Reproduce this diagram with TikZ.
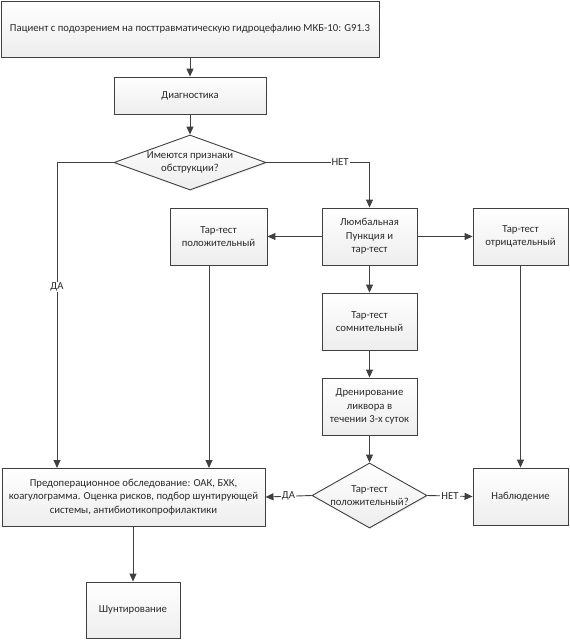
\documentclass[tikz,border=0pt]{standalone}
\usepackage{fontspec}
\setmainfont{Carlito}
\usetikzlibrary{arrows.meta,shapes.geometric,shadows}
\definecolor{ln}{HTML}{404040}
\definecolor{tx}{HTML}{2A2A2A}
\begin{document}
\begin{tikzpicture}[x=1pt,y=-1pt,
  every node/.style={font=\fontsize{10.7}{13.5}\selectfont, text=tx, align=center},
  box/.style={draw=ln, line width=0.9pt, rectangle, inner sep=2pt, top color=white, bottom color=gray!14,
    drop shadow={shadow xshift=1.2pt, shadow yshift=-1.2pt, opacity=0.12}},
  dia/.style={draw=ln, line width=0.9pt, diamond, inner sep=0pt, top color=white, bottom color=gray!14,
    drop shadow={shadow xshift=1.2pt, shadow yshift=-1.2pt, opacity=0.12}},
  conn/.style={draw=ln, line width=0.9pt, -{Triangle[length=8pt,width=7pt]}},
  lab/.style={fill=white, inner sep=1pt}
]
\useasboundingbox (0,0) rectangle (570,641);
\node[box, minimum width=378pt, minimum height=56pt] (top) at (190,29) {Пациент с подозрением на посттравматическую гидроцефалию МКБ-10: G91.3};
\node[box, minimum width=152pt, minimum height=37pt] (diag) at (190,95.5) {Диагностика};
\node[dia, minimum width=152pt, minimum height=55pt, aspect=2.76] (d1) at (190,162.5) {Имеются признаки\\обструкции?};
\node[box, minimum width=97pt, minimum height=57pt] (tpos) at (218.5,236.5) {Тар-тест\\положительный};
\node[box, minimum width=95pt, minimum height=57pt] (lumb) at (369.5,236.5) {Люмбальная\\Пункция и\\тар-тест};
\node[box, minimum width=95pt, minimum height=57pt] (tneg) at (520.5,236.5) {Тар-тест\\отрицательный};
\node[box, minimum width=95pt, minimum height=57pt] (doubt) at (369.5,321.5) {Тар-тест\\сомнительный};
\node[box, minimum width=95pt, minimum height=57pt] (drain) at (369.5,406.5) {Дренирование\\ликвора в\\течении 3-х суток};
\node[dia, minimum width=115pt, minimum height=65pt, aspect=1.77] (d2) at (369.5,495.5) {Тар-тест\\положительный?};
\node[box, minimum width=95pt, minimum height=57pt] (obs) at (520.5,496.5) {Наблюдение};
\node[box, minimum width=263pt, minimum height=58pt] (preop) at (133.5,497) {Предоперационное обследование: ОАК, БХК,\\коагулограмма. Оценка рисков, подбор шунтирующей\\системы, антибиотикопрофилактики};
\node[box, minimum width=94pt, minimum height=56pt] (shunt) at (133,610) {Шунтирование};

\coordinate (tposb) at (209,265);
\coordinate (preopa) at (57,468);
\coordinate (preopb) at (209,468);
\coordinate (preopc) at (133,526);

\draw[conn] (top) -- (diag);
\draw[conn] (diag) -- (d1);
\draw[conn] (d1.west) -| node[lab, pos=0.704] {ДА} (preopa);
\draw[conn] (d1.east) -| node[lab, pos=0.357] {НЕТ} (lumb.north);
\draw[conn] (lumb) -- (tpos);
\draw[conn] (lumb) -- (tneg);
\draw[conn] (lumb) -- (doubt);
\draw[conn] (doubt) -- (drain);
\draw[conn] (drain) -- (d2);
\draw[conn] (d2.west) -- node[lab] {ДА} (preop.east);
\draw[conn] (d2.east) -- node[lab] {НЕТ} (obs.west);
\draw[conn] (tposb) -- (preopb);
\draw[conn] (tneg) -- (obs);
\draw[conn] (preopc) -- (shunt);
\end{tikzpicture}
\end{document}
